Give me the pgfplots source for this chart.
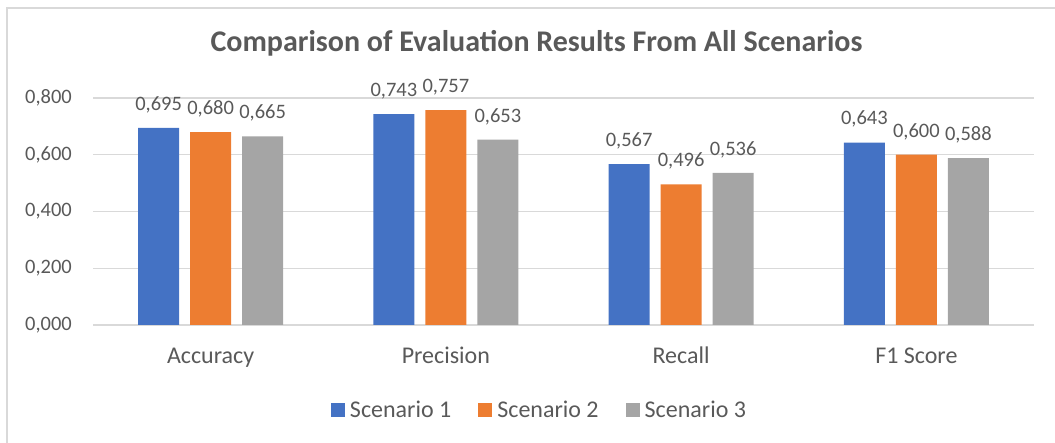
\documentclass[border=0pt]{standalone}
\usepackage{fontspec}
\setmainfont{Carlito}
\usepackage{pgfplots}
\pgfplotsset{compat=1.18}
\definecolor{sone}{HTML}{4472C4}
\definecolor{stwo}{HTML}{ED7D31}
\definecolor{sthree}{HTML}{A5A5A5}
\definecolor{txt}{HTML}{595959}
\definecolor{gridc}{HTML}{D9D9D9}
\begin{document}
\begin{tikzpicture}
\useasboundingbox (0,0) rectangle (1055pt,443pt);
\draw[gridc, line width=1.3pt] (7pt,0pt) -- (7pt,435pt) -- (1055pt,435pt);
\begin{axis}[
  at={(93pt,118pt)}, anchor=south west,
  scale only axis, width=941pt, height=227pt,
  xmin=-0.5, xmax=3.5, ymin=0, ymax=0.8,
  clip=false,
  ybar=11pt, bar width=41pt,
  axis x line*=bottom, axis y line*=left,
  x axis line style={draw=gridc, line width=1.3pt},
  y axis line style={draw=none},
  major tick length=0pt,
  ymajorgrids, grid style={draw=gridc, line width=1.3pt},
  xtick={0,1,2,3}, xticklabels={Accuracy,Precision,Recall,F1 Score},
  ytick={0,0.2,0.4,0.6,0.8},
  xticklabel style={font=\fontsize{24}{28}\selectfont, text=txt, anchor=base, inner sep=0pt, yshift=-39pt},
  yticklabel style={font=\fontsize{20.5}{24}\selectfont, text=txt, anchor=east, inner sep=0pt, xshift=-21pt,
    /pgf/number format/.cd, fixed, fixed zerofill, precision=3, use comma, assume math mode=true, /tikz/.cd},
  nodes near coords={\pgfmathprintnumber[fixed, fixed zerofill, precision=3, use comma, assume math mode=true]{\pgfplotspointmeta}},
  every node near coord/.append style={font=\fontsize{20.5}{24}\selectfont, text=txt, anchor=base, inner sep=0pt, yshift=17.7pt},
  title={Comparison of Evaluation Results From All Scenarios},
  title style={at={(axis description cs:0.4713,1.1806)}, anchor=base, inner sep=0pt, font=\fontsize{30}{36}\selectfont\bfseries, text=txt},
  legend columns=3,
  legend image code/.code={\fill[#1] (0pt,-7pt) rectangle (14pt,7pt); \path (17pt,0pt);},
  legend style={draw=none, fill=none, at={(axis description cs:0.4745,-0.374)}, anchor=center,
    font=\fontsize{24}{28}\selectfont, text=txt, nodes={inner sep=2pt},
    /tikz/every even column/.append style={column sep=25pt}},
]
\addplot[fill=sone, draw=none] coordinates {(0,0.695) (1,0.743) (2,0.567) (3,0.643)};
\addplot[fill=stwo, draw=none] coordinates {(0,0.680) (1,0.757) (2,0.496) (3,0.600)};
\addplot[fill=sthree, draw=none] coordinates {(0,0.665) (1,0.653) (2,0.536) (3,0.588)};
\legend{Scenario 1, Scenario 2, Scenario 3}
\end{axis}
\end{tikzpicture}
\end{document}
